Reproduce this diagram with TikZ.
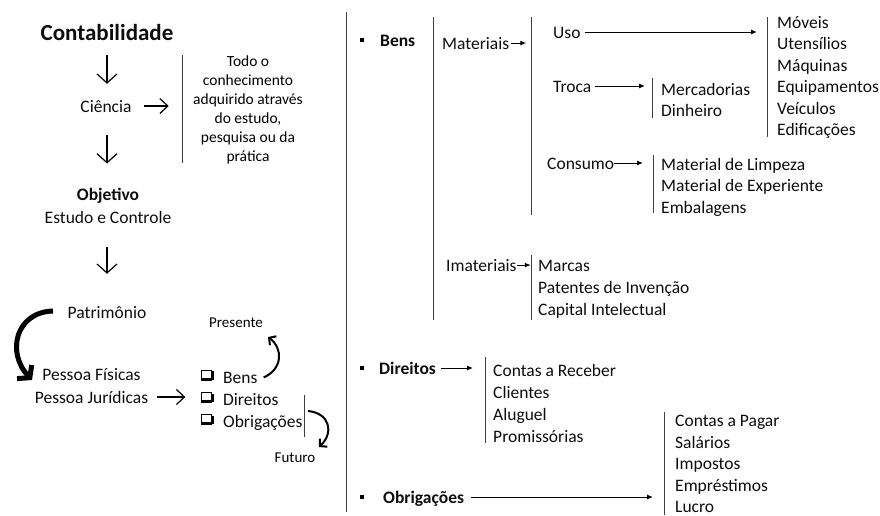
\documentclass[tikz,border=0pt]{standalone}
\usepackage{fontspec}
\setmainfont{Carlito}
\usetikzlibrary{arrows.meta}
\begin{document}
\begin{tikzpicture}[x=1pt,y=-1pt,
  txt/.style={inner sep=0pt,font=\fontsize{17.5}{21}\selectfont,text=black!95},
  lt/.style={txt,anchor=base west},
  ct/.style={txt,anchor=base},
  bt/.style={lt,font=\fontsize{17.5}{21}\selectfont\bfseries},
  smt/.style={inner sep=0pt,anchor=base,font=\fontsize{15.5}{19}\selectfont},
  bar/.style={draw=black!75,line width=0.8pt},
  darr/.style={line width=1.2pt,-{Straight Barb[length=9pt,width=20pt]}},
  harr/.style={line width=1.2pt,-{Straight Barb[length=8pt,width=15pt]}},
  sarr/.style={line width=1pt,-{Latex[length=6pt,width=5pt]}},
  carr/.style={line width=2pt,-{Straight Barb[length=5pt,width=11pt]}},
  bul/.style={fill=black,inner sep=0pt,minimum size=4.5pt},
  cbox/.style={draw,line width=0.8pt,inner sep=0pt,minimum size=10pt}
]
\useasboundingbox (0,0) rectangle (880,515);
\fill[white] (0,0) rectangle (880,515);

% ---------- left column ----------
\node[ct,font=\fontsize{23}{27}\selectfont\bfseries] (conta) at (107,40.5) {Contabilidade};
\node[ct] (ciencia) at (106,112) {Ciência};
\node[ct,font=\fontsize{17.5}{21}\selectfont\bfseries] (objetivo) at (108,200) {Objetivo};
\node[ct] (estudo) at (108,223) {Estudo e Controle};
\node[ct] (patri) at (107,318) {Patrimônio};
\node[ct] (pf) at (91.5,380) {Pessoa Físicas};
\node[ct] (pj) at (91.5,403) {Pessoa Jurídicas};

\draw[darr,shorten <=14.5pt,shorten >=16pt] (conta.south) -- (conta.south |- ciencia.north);
\draw[darr,shorten <=23pt,shorten >=24pt] (ciencia.south -| conta.south) -- (conta.south |- objetivo.north);
\draw[darr,shorten <=24pt,shorten >=32pt] (estudo.south -| conta.south) -- (conta.south |- patri.north);
\draw[harr] ([xshift=12pt]ciencia.east) -- ++(25,0);

\draw[bar] (182,55) -- (182,163);
\foreach \t/\y [count=\i] in {Todo o/66,conhecimento/85,adquirido através/104,{do estudo,}/123,pesquisa ou da/142,prática/161}
  \node[smt] (def\i) at (248,\y) {\t};

% thick curved arrow
\coordinate (pstart) at (53,311);
\coordinate (pend) at (32,380);
\draw[line width=5pt,-{Straight Barb[length=8pt,width=20pt]}] (pstart) .. controls (16,312) and (6,352) .. (pend);

\draw[harr] ([xshift=9pt]pj.east) -- ++(28,0);

% checkbox list
\node[cbox] (cb1) at (206,375) {};
\node[cbox] (cb2) at (206,397.5) {};
\node[cbox] (cb3) at (206,419.5) {};
\foreach \n in {cb1,cb2,cb3}
  \draw[line width=2pt] ([xshift=1.6pt,yshift=-1.5pt]\n.north east) -- ([xshift=1.6pt,yshift=1.6pt]\n.south east) -- ([xshift=1.5pt,yshift=1.6pt]\n.south west);
\node[lt] (cbens) at (223,383) {Bens};
\node[lt] (cdir) at (223,405) {Direitos};
\node[lt] (cobr) at (223,427) {Obrigações};

\node[smt,font=\fontsize{15}{18}\selectfont] (presente) at (236,327) {Presente};
\node[smt,font=\fontsize{15}{18}\selectfont] (futuro) at (295,462) {Futuro};
\draw[carr] ([xshift=6pt]cbens.east) .. controls (283,369) and (283,348) .. (268,337);
\draw[bar] (304,395) -- (304,437);
\draw[carr] (308,411) .. controls (330,413) and (334,433) .. (319,447);

% ---------- right part ----------
\draw[bar] (346,12) -- (346,512);

\node[bul] (b1) at (362,40) {};
\node[bul] (b2) at (362,368) {};
\node[bul] (b3) at (362,497) {};
\node[bt] (bens) at (380,46) {Bens};
\node[bt] (direitos) at (379,374) {Direitos};
\node[bt] (obrig) at (383,503) {Obrigações};

\draw[bar] (433,17) -- (433,320);
\node[lt] (mat) at (442,49) {Materiais};
\node[lt] (imat) at (446,271) {Imateriais};
\draw[sarr] ([xshift=2pt]mat.east) -- ++(15,0);
\draw[sarr] ([xshift=0pt]imat.east) -- ++(14,0);

\draw[bar] (531,17) -- (531,215);
\node[lt] (uso) at (553,38) {Uso};
\node[lt] (troca) at (553,92) {Troca};
\node[lt] (cons) at (547,169) {Consumo};
\coordinate (usoend) at (757,32);
\coordinate (trocaend) at (645,86);
\coordinate (consend) at (643,163);
\draw[sarr] ([xshift=4pt]uso.east |- usoend) -- (usoend);
\draw[sarr] ([xshift=3pt]troca.east |- trocaend) -- (trocaend);
\draw[sarr] (cons.east |- consend) -- (consend);

\draw[bar] (767,17) -- (767,137);
\foreach \t/\y [count=\i] in {Móveis/28,Utensílios/49.5,Máquinas/71,Equipamentos/92.5,Veículos/114,Edificações/135.5}
  \node[lt] (uso\i) at (777,\y) {\t};

\draw[bar] (652,78) -- (652,118);
\node[lt] (merc) at (661,95) {Mercadorias};
\node[lt] (din) at (661,116) {Dinheiro};

\draw[bar] (653,155) -- (653,213);
\foreach \t/\y [count=\i] in {Material de Limpeza/170,Material de Experiente/191.5,Embalagens/213}
  \node[lt] (cons\i) at (661,\y) {\t};

\draw[bar] (531,255) -- (531,320);
\foreach \t/\y [count=\i] in {Marcas/271,Patentes de Invenção/293.5,Capital Intelectual/315.5}
  \node[lt] (imat\i) at (538,\y) {\t};

\coordinate (dirend) at (473,368);
\draw[sarr] ([xshift=5pt]direitos.east |- dirend) -- (dirend);
\draw[bar] (485,357) -- (485,443);
\foreach \t/\y [count=\i] in {Contas a Receber/376,Clientes/398,Aluguel/420.5,Promissórias/442.5}
  \node[lt] (dir\i) at (493,\y) {\t};

\coordinate (obrend) at (653,497);
\draw[sarr] ([xshift=7pt]obrig.east |- obrend) -- (obrend);
\draw[bar] (664,412) -- (664,515);
\foreach \t/\y [count=\i] in {Contas a Pagar/426.5,Salários/448,Impostos/469.5,Empréstimos/491,Lucro/512}
  \node[lt] (obr\i) at (675,\y) {\t};
\end{tikzpicture}
\end{document}
